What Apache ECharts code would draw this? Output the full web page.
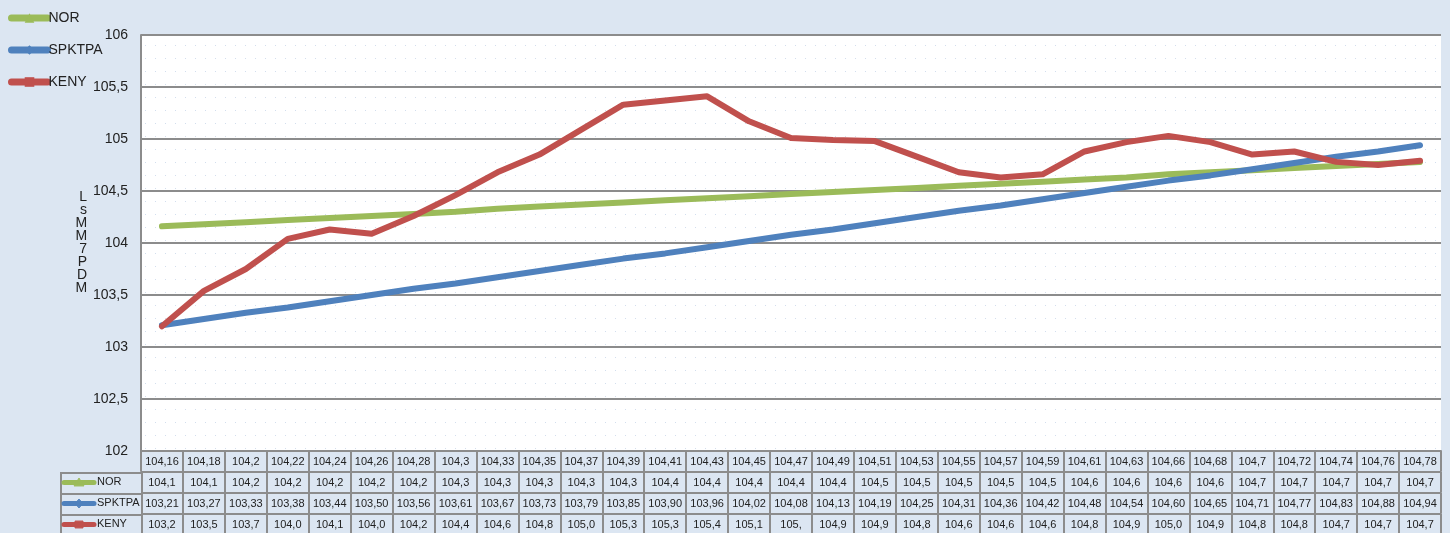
<!DOCTYPE html>
<html>
<head>
<meta charset="utf-8">
<script src="https://cdn.jsdelivr.net/npm/echarts@6/dist/echarts.min.js"></script>
<style>
html,body{margin:0;padding:0;background:#dce6f2;}
#main{width:1450px;height:533px;}
</style>
</head>
<body>
<div id="main"></div>
<script>
// ---- data ----
const categories = ['104,16','104,18','104,2','104,22','104,24','104,26','104,28','104,3','104,33','104,35','104,37','104,39','104,41','104,43','104,45','104,47','104,49','104,51','104,53','104,55','104,57','104,59','104,61','104,63','104,66','104,68','104,7','104,72','104,74','104,76','104,78'];
const norValues = [104.16,104.18,104.2,104.22,104.24,104.26,104.28,104.3,104.33,104.35,104.37,104.39,104.41,104.43,104.45,104.47,104.49,104.51,104.53,104.55,104.57,104.59,104.61,104.63,104.66,104.68,104.7,104.72,104.74,104.76,104.78];
const spktpaValues = [103.21,103.27,103.33,103.38,103.44,103.50,103.56,103.61,103.67,103.73,103.79,103.85,103.90,103.96,104.02,104.08,104.13,104.19,104.25,104.31,104.36,104.42,104.48,104.54,104.60,104.65,104.71,104.77,104.83,104.88,104.94];
const kenyValues = [103.20,103.54,103.75,104.04,104.13,104.09,104.26,104.46,104.68,104.85,105.09,105.33,105.37,105.41,105.17,105.01,104.99,104.98,104.83,104.68,104.63,104.66,104.88,104.97,105.03,104.97,104.85,104.88,104.78,104.75,104.79];
const norTable = ['104,1','104,1','104,2','104,2','104,2','104,2','104,2','104,3','104,3','104,3','104,3','104,3','104,4','104,4','104,4','104,4','104,4','104,5','104,5','104,5','104,5','104,5','104,6','104,6','104,6','104,6','104,7','104,7','104,7','104,7','104,7'];
const spktpaTable = ['103,21','103,27','103,33','103,38','103,44','103,50','103,56','103,61','103,67','103,73','103,79','103,85','103,90','103,96','104,02','104,08','104,13','104,19','104,25','104,31','104,36','104,42','104,48','104,54','104,60','104,65','104,71','104,77','104,83','104,88','104,94'];
const kenyTable = ['103,2','103,5','103,7','104,0','104,1','104,0','104,2','104,4','104,6','104,8','105,0','105,3','105,3','105,4','105,1','105,','104,9','104,9','104,8','104,6','104,6','104,6','104,8','104,9','105,0','104,9','104,8','104,8','104,7','104,7','104,7'];
const seriesNames = ['NOR','SPKTPA','KENY'];
const yTickValues = [102,102.5,103,103.5,104,104.5,105,105.5,106];
const yAxisTitle = 'LsMM7PDM';

// ---- styles ----
const colors = ['#9bbb59','#4f81bd','#c0504d'];
const symbols = ['triangle','diamond','rect'];
const gridGray = '#8c8c8c';
const FONT = 'Liberation Sans, Arial, sans-serif';

// dotted plot background
const pc = document.createElement('canvas');
pc.width = 10; pc.height = 13;
const pctx = pc.getContext('2d');
pctx.fillStyle = '#ffffff'; pctx.fillRect(0,0,10,13);
pctx.fillStyle = '#d2deee'; pctx.fillRect(5,6,1,1);

const chart = echarts.init(document.getElementById('main'));

const ROW_H = 21;
const tableRows = [categories, norTable, spktpaTable, kenyTable];
const xAxes = tableRows.map((row, i) => ({
  type: 'category',
  data: categories,
  position: 'bottom',
  offset: i * ROW_H,
  boundaryGap: true,
  axisLine: { show: true, lineStyle: { color: gridGray, width: 2 } },
  axisTick: { show: true, interval: 0, length: ROW_H - 1, lineStyle: { color: gridGray, width: 2 } },
  axisLabel: {
    show: true, interval: 0, margin: 5,
    fontSize: 11, color: '#222', fontFamily: FONT,
    formatter: (v, idx) => row[idx]
  },
  splitLine: { show: false }
}));

const seriesValues = [norValues, spktpaValues, kenyValues];
const series = seriesNames.map((name, i) => ({
  name,
  type: 'line',
  xAxisIndex: 0,
  yAxisIndex: 0,
  data: seriesValues[i],
  symbol: symbols[i],
  symbolSize: 10,
  showSymbol: false,
  smooth: false,
  lineStyle: { color: colors[i], width: 6, cap: 'round', join: 'round' },
  itemStyle: { color: colors[i] },
  emphasis: { disabled: true },
  z: 2 + i
}));

// row header cells of the data table
const headerGraphics = [];
seriesNames.forEach((name, i) => {
  const y = 451 + ROW_H * (i + 1);
  headerGraphics.push({
    type: 'rect', left: 60, top: y,
    shape: { x: 0, y: 0, width: 81, height: ROW_H },
    style: { fill: '#dce6f2', stroke: gridGray, lineWidth: 2 }, z: 10
  });
  headerGraphics.push({
    type: 'line',
    shape: { x1: 64, y1: y + 10.5, x2: 94, y2: y + 10.5 },
    style: { stroke: colors[i], lineWidth: 5, lineCap: 'round' }, z: 11
  });
  let mk;
  if (i === 0) mk = { type: 'polygon', shape: { points: [[79, y + 6], [84, y + 14], [74, y + 14]] } };
  else if (i === 1) mk = { type: 'polygon', shape: { points: [[79, y + 6], [83, y + 10.5], [79, y + 15], [75, y + 10.5]] } };
  else mk = { type: 'rect', shape: { x: 75, y: y + 7, width: 8, height: 7 } };
  mk.style = { fill: colors[i], stroke: colors[i], lineWidth: 1, opacity: 0.9 };
  mk.z = 12;
  headerGraphics.push(mk);
  headerGraphics.push({
    type: 'text', left: 97, top: y + 4,
    style: { text: name, fontSize: 11, fill: '#222', fontFamily: FONT }, z: 12
  });
});

const option = {
  backgroundColor: '#dce6f2',
  animation: false,
  color: colors,
  grid: {
    left: 141, right: 9, top: 35, bottom: 82,
    show: true,
    backgroundColor: { image: pc, repeat: 'repeat' },
    borderWidth: 0
  },
  legend: {
    show: true,
    orient: 'vertical',
    left: 8, top: 11,
    padding: 0,
    itemWidth: 36, itemHeight: 12,
    itemGap: 18,
    data: seriesNames,
    lineStyle: { width: 7, cap: 'round' },
    textStyle: { fontSize: 14, color: '#222', fontFamily: FONT, padding: [0,0,0,-4] },
    selectedMode: false
  },
  xAxis: xAxes,
  yAxis: {
    type: 'value',
    min: 102, max: 106, interval: 0.5,
    name: yAxisTitle.split('').join('\n'),
    nameLocation: 'middle',
    nameRotate: 0,
    nameGap: 52,
    nameTextStyle: { fontSize: 14, color: '#222', lineHeight: 13, fontFamily: FONT },
    axisLine: { show: true, lineStyle: { color: gridGray, width: 2 } },
    axisTick: { show: false },
    axisLabel: {
      fontSize: 14, color: '#222', margin: 13, fontFamily: FONT,
      formatter: v => {
        const t = yTickValues.find(x => Math.abs(x - v) < 1e-6);
        return String(t !== undefined ? t : v).replace('.', ',');
      }
    },
    splitLine: { show: true, lineStyle: { color: gridGray, width: 2 } }
  },
  series,
  graphic: headerGraphics
};
chart.setOption(option);
</script>
</body>
</html>
